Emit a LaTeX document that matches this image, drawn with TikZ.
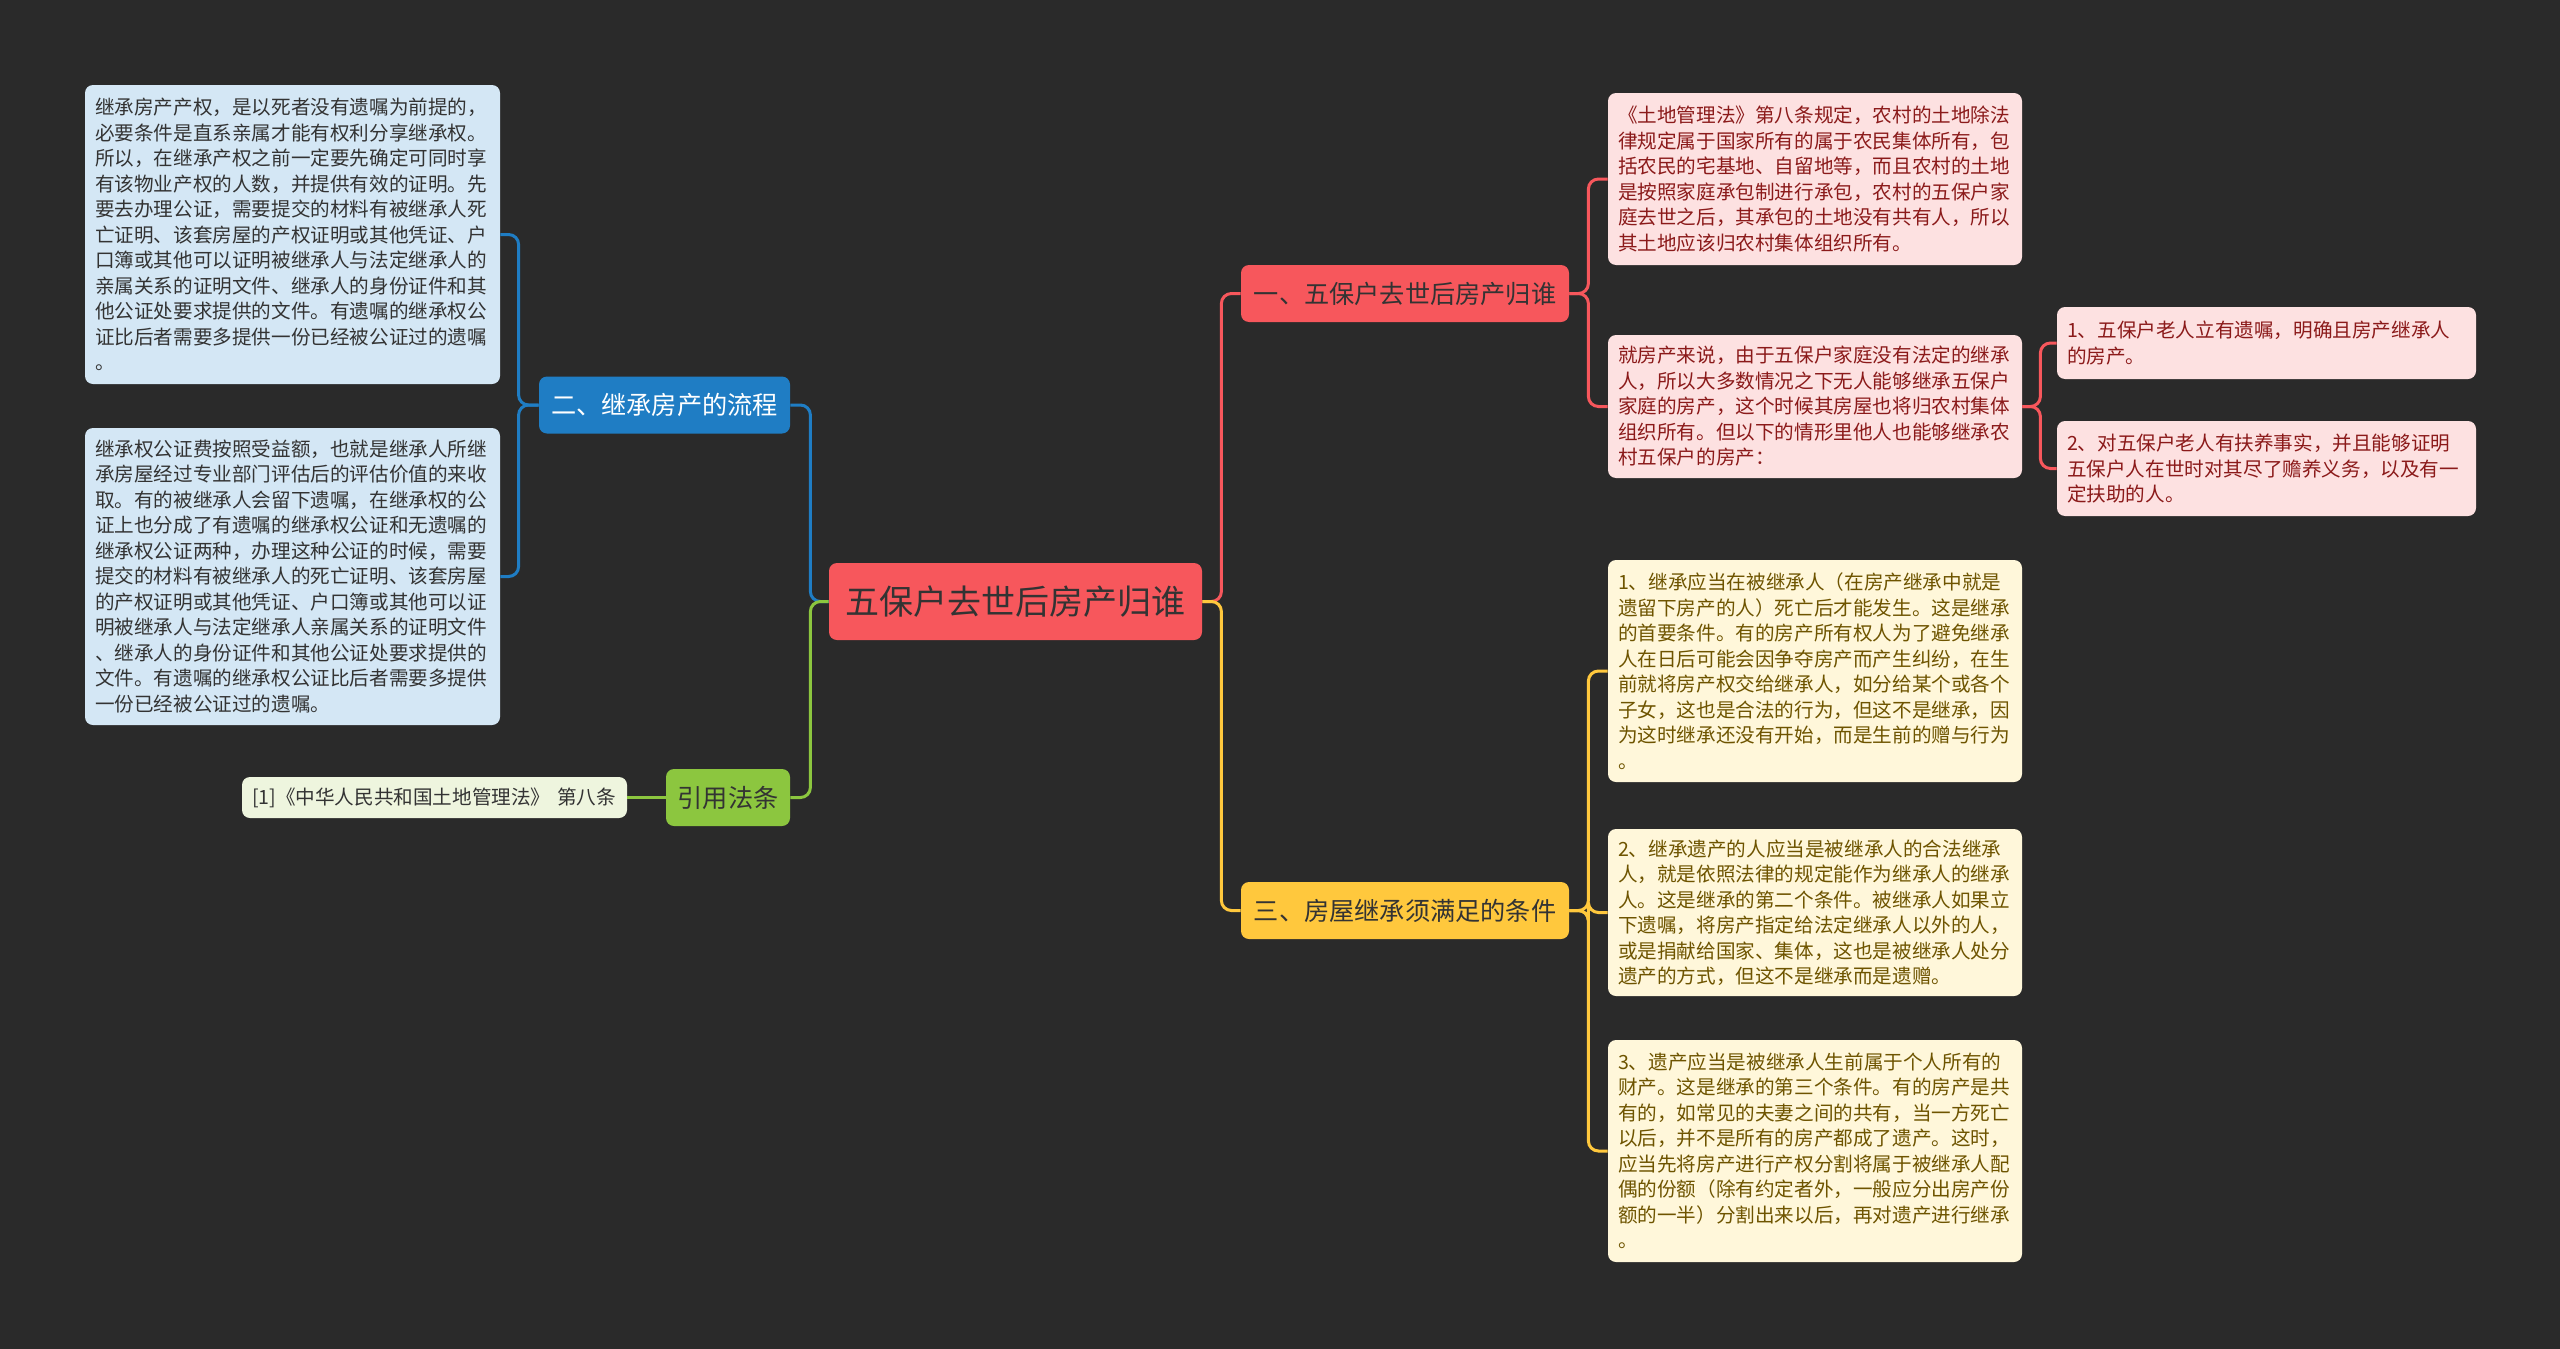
\documentclass[tikz,border=0pt]{standalone}
\usepackage{fontspec}
\setmainfont{Noto Sans CJK SC}
\usepackage{tikz}
\definecolor{bgdark}{HTML}{2A2A2A}
\definecolor{red2}{HTML}{F7575C}
\definecolor{blue2}{HTML}{1F7DC4}
\definecolor{green2}{HTML}{8CC63F}
\definecolor{yellow2}{HTML}{FFC83D}
\definecolor{bluefill}{HTML}{D4E7F5}
\definecolor{pinkfill}{HTML}{FDE1E1}
\definecolor{pinktext}{HTML}{8B1A1A}
\definecolor{creamfill}{HTML}{FFF7DA}
\definecolor{creamtext}{HTML}{6E5400}
\definecolor{citefill}{HTML}{EEF5DE}
\definecolor{darktext}{HTML}{333333}
\newcommand{\leaffont}{\fontsize{9.8}{12.75}\selectfont}

\begin{document}
\begin{tikzpicture}[
    x=0.5pt,y=-0.5pt,
    every node/.style={font=\leaffont},
    topic/.style={rounded corners=4pt,inner sep=0pt,minimum height=28.5pt,
                  text=darktext,font=\fontsize{12.6}{14}\selectfont},
    leaf/.style={rounded corners=4pt,align=left,inner xsep=5pt,inner ysep=1pt},
    ln/.style={line width=1.5pt,rounded corners=5pt},
  ]
  \useasboundingbox[fill=bgdark] (0,0) rectangle (2560,1349);

  % centre and main branches
  \node[topic,fill=red2,minimum width=186.5pt,minimum height=38.5pt,
        font=\fontsize{17}{20}\selectfont] (root) at (1015.5,601.5) {五保户去世后房产归谁};
  \node[topic,fill=red2,minimum width=164pt] (one) at (1405,293.5) {一、五保户去世后房产归谁};
  \node[topic,fill=yellow2,minimum width=164pt] (three) at (1405,910.5) {三、房屋继承须满足的条件};
  \node[topic,fill=blue2,text=white,minimum width=125.5pt] (two) at (664.5,405) {二、继承房产的流程};
  \node[topic,fill=green2,minimum width=62pt] (law) at (728,797.5) {引用法条};

  % left leaves
  \node[leaf,fill=bluefill,text=darktext,text width=197.5pt,minimum height=149.5pt] (procA) at (292.5,234.5)
    {继承房产产权，是以死者没有遗嘱为前提的，\\
     必要条件是直系亲属才能有权利分享继承权。\\
     所以，在继承产权之前一定要先确定可同时享\\
     有该物业产权的人数，并提供有效的证明。先\\
     要去办理公证，需要提交的材料有被继承人死\\
     亡证明、该套房屋的产权证明或其他凭证、户\\
     口簿或其他可以证明被继承人与法定继承人的\\
     亲属关系的证明文件、继承人的身份证件和其\\
     他公证处要求提供的文件。有遗嘱的继承权公\\
     证比后者需要多提供一份已经被公证过的遗嘱\\
     。};
  \node[leaf,fill=bluefill,text=darktext,text width=197.5pt,minimum height=148.5pt] (procB) at (292.5,576.5)
    {继承权公证费按照受益额，也就是继承人所继\\
     承房屋经过专业部门评估后的评估价值的来收\\
     取。有的被继承人会留下遗嘱，在继承权的公\\
     证上也分成了有遗嘱的继承权公证和无遗嘱的\\
     继承权公证两种，办理这种公证的时候，需要\\
     提交的材料有被继承人的死亡证明、该套房屋\\
     的产权证明或其他凭证、户口簿或其他可以证\\
     明被继承人与法定继承人亲属关系的证明文件\\
     、继承人的身份证件和其他公证处要求提供的\\
     文件。有遗嘱的继承权公证比后者需要多提供\\
     一份已经被公证过的遗嘱。};
  \node[leaf,fill=citefill,text=darktext,text width=182.5pt,minimum height=20.5pt] (cite) at (434.5,797.5)
    {[1]《中华人民共和国土地管理法》 第八条};

  % right leaves, first branch
  \node[leaf,fill=pinkfill,text=pinktext,text width=197pt,minimum height=86pt] (land) at (1815,179)
    {《土地管理法》第八条规定，农村的土地除法\\
     律规定属于国家所有的属于农民集体所有，包\\
     括农民的宅基地、自留地等，而且农村的土地\\
     是按照家庭承包制进行承包，农村的五保户家\\
     庭去世之后，其承包的土地没有共有人，所以\\
     其土地应该归农村集体组织所有。};
  \node[leaf,fill=pinkfill,text=pinktext,text width=197pt,minimum height=71.5pt] (house) at (1815,406.5)
    {就房产来说，由于五保户家庭没有法定的继承\\
     人，所以大多数情况之下无人能够继承五保户\\
     家庭的房产，这个时候其房屋也将归农村集体\\
     组织所有。但以下的情形里他人也能够继承农\\
     村五保户的房产：};
  \node[leaf,fill=pinkfill,text=pinktext,text width=199.5pt,minimum height=36pt] (caseA) at (2266.5,343)
    {1、五保户老人立有遗嘱，明确且房产继承人\\
     的房产。};
  \node[leaf,fill=pinkfill,text=pinktext,text width=199.5pt,minimum height=47.5pt] (caseB) at (2266.5,468.5)
    {2、对五保户老人有扶养事实，并且能够证明\\
     五保户人在世时对其尽了赡养义务，以及有一\\
     定扶助的人。};

  % right leaves, third branch
  \node[leaf,fill=creamfill,text=creamtext,text width=197pt,minimum height=111pt] (condA) at (1815,671)
    {1、继承应当在被继承人（在房产继承中就是\\
     遗留下房产的人）死亡后才能发生。这是继承\\
     的首要条件。有的房产所有权人为了避免继承\\
     人在日后可能会因争夺房产而产生纠纷，在生\\
     前就将房产权交给继承人，如分给某个或各个\\
     子女，这也是合法的行为，但这不是继承，因\\
     为这时继承还没有开始，而是生前的赠与行为\\
     。};
  \node[leaf,fill=creamfill,text=creamtext,text width=197pt,minimum height=83.5pt] (condB) at (1815,912.5)
    {2、继承遗产的人应当是被继承人的合法继承\\
     人，就是依照法律的规定能作为继承人的继承\\
     人。这是继承的第二个条件。被继承人如果立\\
     下遗嘱，将房产指定给法定继承人以外的人，\\
     或是捐献给国家、集体，这也是被继承人处分\\
     遗产的方式，但这不是继承而是遗赠。};
  \node[leaf,fill=creamfill,text=creamtext,text width=197pt,minimum height=111pt] (condC) at (1815,1151)
    {3、遗产应当是被继承人生前属于个人所有的\\
     财产。这是继承的第三个条件。有的房产是共\\
     有的，如常见的夫妻之间的共有，当一方死亡\\
     以后，并不是所有的房产都成了遗产。这时，\\
     应当先将房产进行产权分割将属于被继承人配\\
     偶的份额（除有约定者外，一般应分出房产份\\
     额的一半）分割出来以后，再对遗产进行继承\\
     。};

  % connectors
  \draw[ln,red2] (root.east) -- ++(19,0) |- (one.west);
  \draw[ln,yellow2] (root.east) -- ++(19,0) |- (three.west);
  \draw[ln,blue2] (two.east) -- ++(20,0) |- (root.west);
  \draw[ln,green2] (law.east) -- ++(20,0) |- (root.west);
  \draw[ln,green2] (cite.east) -- (law.west);
  \draw[ln,blue2] (two.west) -- ++(-20,0) |- (procA.east);
  \draw[ln,blue2] (two.west) -- ++(-20,0) |- (procB.east);
  \draw[ln,red2] (one.east) -- ++(19,0) |- (land.west);
  \draw[ln,red2] (one.east) -- ++(19,0) |- (house.west);
  \draw[ln,red2] (house.east) -- ++(18,0) |- (caseA.west);
  \draw[ln,red2] (house.east) -- ++(18,0) |- (caseB.west);
  \draw[ln,yellow2] (three.east) -- ++(19,0) |- (condA.west);
  \draw[ln,yellow2] (three.east) -- ++(19,0) |- (condB.west);
  \draw[ln,yellow2] (three.east) -- ++(19,0) |- (condC.west);
\end{tikzpicture}
\end{document}
